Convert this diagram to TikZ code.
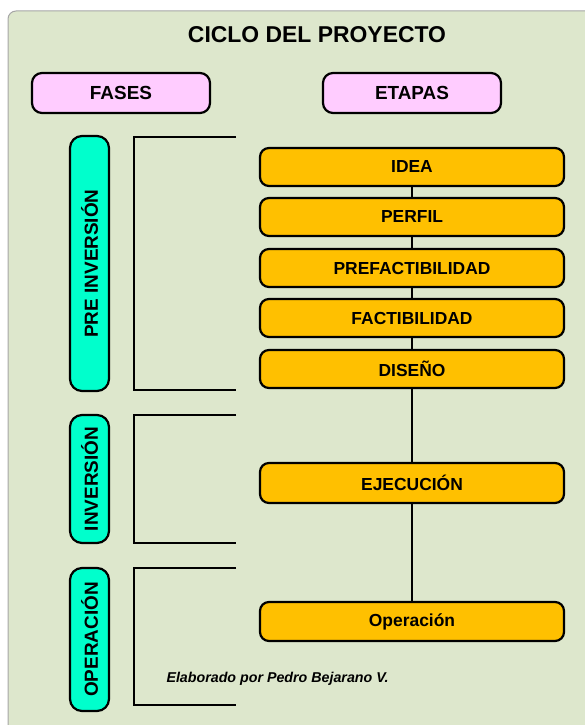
\documentclass[tikz,border=0pt]{standalone}
\usepackage{fontspec}
\setmainfont{Liberation Sans}
\definecolor{bgc}{HTML}{DDE7CC}
\definecolor{orangec}{HTML}{FFC000}
\definecolor{cyanc}{HTML}{00FFCC}
\definecolor{pinkc}{HTML}{FFCCFF}
\begin{document}
\begin{tikzpicture}[x=1bp,y=-1bp,
  etapa/.style={draw=black,line width=2.2bp,fill=orangec,rounded corners=9bp,minimum width=304bp,minimum height=38bp,font=\bfseries\fontsize{17.5}{19}\selectfont,inner sep=0pt},
  header/.style={draw=black,line width=2.2bp,fill=pinkc,rounded corners=10bp,minimum width=178bp,minimum height=40bp,font=\bfseries\fontsize{19}{21}\selectfont,inner sep=0pt},
  fase/.style={draw=black,line width=2.2bp,fill=cyanc,rounded corners=12bp,minimum height=39bp,rotate=90,font=\bfseries\fontsize{19}{21}\selectfont,inner sep=0pt},
  bracket/.style={draw=black,line width=2bp},
  link/.style={draw=black,line width=2bp}]
\useasboundingbox (0,0) rectangle (585,725);
\begin{scope}
\clip (0,0) rectangle (585,725);
\draw[fill=bgc,draw=gray!70,line width=1bp,rounded corners=8bp] (8,11) rectangle (600,740);
\end{scope}
\node[font=\bfseries\fontsize{23}{25}\selectfont] (title) at (317,35) {CICLO DEL PROYECTO};
\node[header] (fases) at (121,93) {FASES};
\node[header] (etapas) at (412,93) {ETAPAS};
\node[fase,minimum width=255bp] (pre) at (89.5,263.5) {PRE INVERSIÓN};
\node[fase,minimum width=128bp] (inv) at (89.5,479) {INVERSIÓN};
\node[fase,minimum width=143bp] (ope) at (89.5,639.5) {OPERACIÓN};
\draw[bracket] (236,137) -- (134,137) -- (134,390) -- (236,390);
\draw[bracket] (236,415) -- (134,415) -- (134,543) -- (236,543);
\draw[bracket] (236,568) -- (134,568) -- (134,705) -- (236,705);
\node[etapa] (idea) at (412,167) {IDEA};
\node[etapa] (perfil) at (412,217) {PERFIL};
\node[etapa] (pref) at (412,268) {PREFACTIBILIDAD};
\node[etapa] (fact) at (412,318) {FACTIBILIDAD};
\node[etapa] (dis) at (412,369) {DISEÑO};
\node[etapa,minimum height=40bp] (eje) at (412,483) {EJECUCIÓN};
\node[etapa,minimum height=39bp] (op) at (412,621.5) {Operación};
\draw[link] (idea) -- (perfil);
\draw[link] (perfil) -- (pref);
\draw[link] (pref) -- (fact);
\draw[link] (fact) -- (dis);
\draw[link] (dis) -- (eje);
\draw[link] (eje) -- (op);
\node[font=\bfseries\itshape\fontsize{14.3}{16}\selectfont,anchor=west] (autor) at (163,679) {Elaborado por Pedro Bejarano V.};
\end{tikzpicture}
\end{document}
